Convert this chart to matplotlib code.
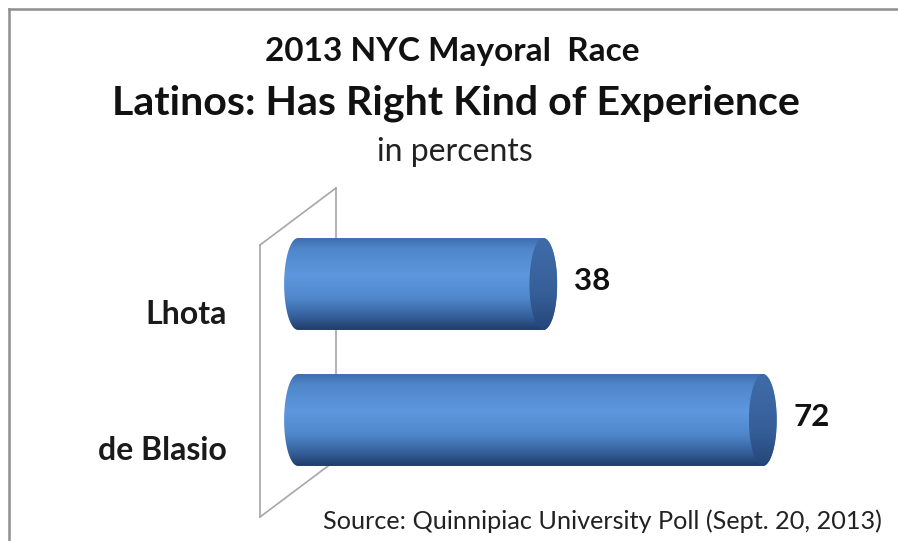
import numpy as np
import matplotlib
matplotlib.use('Agg')
import matplotlib.pyplot as plt
from matplotlib.patches import Polygon, Ellipse
from matplotlib.colors import LinearSegmentedColormap
from matplotlib.lines import Line2D

# Poll numbers (percent)
candidates = ['Lhota', 'de Blasio']
experience = [38, 72]

title_1 = '2013 NYC Mayoral  Race'
title_2 = 'Latinos: Has Right Kind of Experience'
subtitle = 'in percents'
source = 'Source: Quinnipiac University Poll (Sept. 20, 2013)'

W, H = 898, 541
plt.rcParams['font.family'] = ['Lato', 'DejaVu Sans']

fig = plt.figure(figsize=(W / 100, H / 100), dpi=100)
fig.patch.set_facecolor('white')

def fx(px):
    return px / W

def fy(py):
    return 1 - py / H

# plot area: x in percent, y in category slots (6.456 px per percent)
ppu = 6.456
x_lo, x_hi = -5, 90
ax = fig.add_axes([fx(298 + x_lo * ppu), fy(488), fx((x_hi - x_lo) * ppu), 272 / H])
ax.set_xlim(x_lo, x_hi)
ax.set_ylim(1.5, -0.5)
ax.axis('off')

half_h = 0.338   # cylinder radius (category units)
cap_w = 2.15     # half width of elliptical ends (percent units)

body_cmap = LinearSegmentedColormap.from_list('body', [
    (0.00, '#3d6dae'), (0.12, '#5087cb'), (0.40, '#5d97dd'),
    (0.65, '#5088cc'), (0.85, '#35619c'), (1.00, '#1f3d68')])
cap_cmap = LinearSegmentedColormap.from_list('cap', [
    (0.0, '#3f6ca9'), (0.6, '#365f98'), (1.0, '#254679')])

t = np.linspace(0, np.pi, 60)
for i, (name, v) in enumerate(zip(candidates, experience)):
    # outline: left half ellipse + right half ellipse
    lx = -cap_w * np.sin(t)
    ly = i - half_h * np.cos(t)
    rx = v + cap_w * np.sin(t)
    ry = i + half_h * np.cos(t)
    outline = Polygon(np.column_stack([np.r_[lx, rx], np.r_[ly, ry]]),
                      closed=True, facecolor='none', edgecolor='none',
                      transform=ax.transData)
    ax.add_patch(outline)
    grad = np.linspace(0, 1, 256).reshape(-1, 1)
    im = ax.imshow(grad, cmap=body_cmap, aspect='auto', interpolation='bilinear',
                   extent=[-cap_w, v + cap_w, i + half_h, i - half_h], zorder=3)
    im.set_clip_path(outline)

    # end cap
    cap = Ellipse((v, i), 2 * cap_w, 2 * half_h, facecolor='none',
                  edgecolor='none', transform=ax.transData)
    ax.add_patch(cap)
    cgrad = np.linspace(0, 1, 256).reshape(-1, 1)
    cim = ax.imshow(cgrad, cmap=cap_cmap, aspect='auto', interpolation='bilinear',
                    extent=[v - cap_w, v + cap_w, i + half_h, i - half_h], zorder=4)
    cim.set_clip_path(cap)

    # value label
    ax.text(v + cap_w + 2.6, i - 0.02, str(v), fontsize=22.5, fontweight='bold',
            color='#111111', ha='left', va='center', zorder=5)

ax.set_xlim(x_lo, x_hi)
ax.set_ylim(1.5, -0.5)

# category labels sit on the front plane, a bit lower than the bars
for i, name in enumerate(candidates):
    fig.text(fx(227), fy(315 + i * 135), name, fontsize=23, fontweight='bold',
             color='#1a1a1a', ha='right', va='center')

# side wall of the 3-D plot area
wall = '#a6a6a6'
for (x0, y0), (x1, y1) in [((336, 188), (336, 460)), ((260, 245), (260, 517)),
                           ((260, 245), (336, 188)), ((260, 517), (336, 460))]:
    fig.add_artist(Line2D([fx(x0), fx(x1)], [fy(y0), fy(y1)], color=wall,
                          lw=1.2, zorder=-1))

# chart border
fig.add_artist(Line2D([fx(9), fx(898)], [fy(9), fy(9)], color='#8f8f8f', lw=1.8))
fig.add_artist(Line2D([fx(9), fx(9)], [fy(9), fy(541)], color='#8f8f8f', lw=1.8))

fig.text(fx(452), fy(52), title_1, fontsize=24, fontweight='bold',
         ha='center', va='center', color='#111111')
fig.text(fx(456), fy(103), title_2, fontsize=29.6, fontweight='bold',
         ha='center', va='center', color='#111111')
fig.text(fx(455), fy(152), subtitle, fontsize=23, ha='center', va='center',
         color='#222222')
fig.text(fx(882), fy(521), source, fontsize=18.2, ha='right', va='center',
         color='#222222')

fig.savefig('out.png', dpi=100, facecolor='white')
